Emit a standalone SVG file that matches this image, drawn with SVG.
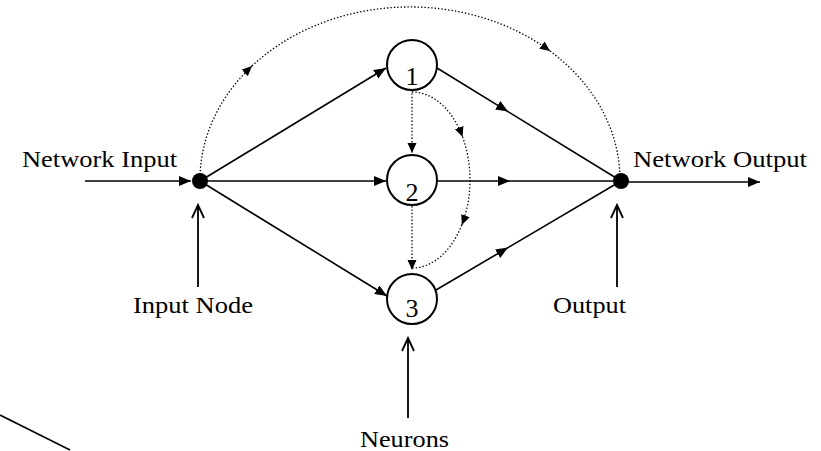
<svg xmlns="http://www.w3.org/2000/svg" width="821" height="451" viewBox="0 0 821 451">
<style>
.lbl{font-family:"Liberation Serif","Times New Roman",serif;font-size:23px;fill:#000}
.num{font-family:"Liberation Serif","Times New Roman",serif;font-size:26px;fill:#000;text-anchor:middle}
.solid{fill:none;stroke:#000;stroke-width:1.6}
.dot{fill:none;stroke:#000;stroke-width:1.3;stroke-dasharray:1.4 2}
.neuron{fill:#fff;stroke:#000;stroke-width:2}
.open{fill:none;stroke:#000;stroke-width:1.8}
</style>
<defs>
<marker id="ah" markerUnits="userSpaceOnUse" markerWidth="13" markerHeight="11" refX="12" refY="5" orient="auto">
<path d="M0,0 L12,5 L0,10 z" fill="#000"/>
</marker>
<marker id="ahs" markerUnits="userSpaceOnUse" markerWidth="12" markerHeight="10" refX="10" refY="4.5" orient="auto">
<path d="M0,0 L10,4.5 L0,9 z" fill="#000"/>
</marker>
</defs>
<g id="connectors">
<path class="solid" d="M200,181 L386,68" marker-end="url(#ah)"/>
<path class="solid" d="M200,181 L386,181" marker-end="url(#ah)"/>
<path class="solid" d="M200,181 L387,296" marker-end="url(#ah)"/>
<path class="solid" d="M437,68 L508,111.6 L621,181" marker-mid="url(#ah)"/>
<path class="solid" d="M437,181 L510,181 L621,181" marker-mid="url(#ah)"/>
<path class="solid" d="M436,290 L508,247.6 L621,181" marker-mid="url(#ah)"/>
<path class="solid" d="M85,181 L191,181" marker-end="url(#ah)"/>
<path class="solid" d="M628,182 L760,182" marker-end="url(#ah)"/>
<path class="dot" d="M412,90 L412,153" marker-end="url(#ahs)"/>
<path class="dot" d="M412,206 L412,270" marker-end="url(#ahs)"/>
<path class="dot" d="M412,92 A58,88 0 0 1 462.6,137" marker-end="url(#ahs)"/>
<path class="dot" d="M462.6,137 A58,88 0 0 1 461.8,225" marker-end="url(#ahs)"/>
<path class="dot" d="M461.8,225 A58,88 0 0 1 412,268"/>
<path class="dot" d="M200,178 A210,173 0 0 1 252,66" marker-end="url(#ahs)"/>
<path class="dot" d="M252,66 A210,173 0 0 1 550,51" marker-end="url(#ahs)"/>
<path class="dot" d="M550,51 A210,173 0 0 1 620,178"/>
<path class="open" d="M198,287 L198,206 M192,218 L198,205 L204,218"/>
<path class="open" d="M617,287 L617,206 M611,218 L617,205 L623,218"/>
<path class="open" d="M408,418 L408,339 M402,351 L408,338 L414,351"/>
<path class="solid" d="M0,415 L70,450" stroke-width="1.3"/>
</g>
<g id="input-node"><circle cx="200" cy="181" r="8" fill="#000"/></g>
<g id="output-node"><circle cx="621" cy="181" r="8" fill="#000"/></g>
<g id="neuron-1"><circle class="neuron" cx="412" cy="65" r="25"/><text class="num" x="412" y="85">1</text></g>
<g id="neuron-2"><circle class="neuron" cx="412" cy="180" r="25"/><text class="num" x="412" y="201">2</text></g>
<g id="neuron-3"><circle class="neuron" cx="412" cy="299" r="25"/><text class="num" x="412" y="317">3</text></g>
<g id="labels">
<text class="lbl" x="22" y="167" textLength="155" lengthAdjust="spacingAndGlyphs">Network Input</text>
<text class="lbl" x="633" y="167" textLength="174" lengthAdjust="spacingAndGlyphs">Network Output</text>
<text class="lbl" x="133" y="313" textLength="120" lengthAdjust="spacingAndGlyphs">Input Node</text>
<text class="lbl" x="553" y="313" textLength="73" lengthAdjust="spacingAndGlyphs">Output</text>
<text class="lbl" x="360" y="447" textLength="89" lengthAdjust="spacingAndGlyphs">Neurons</text>
</g>
</svg>
